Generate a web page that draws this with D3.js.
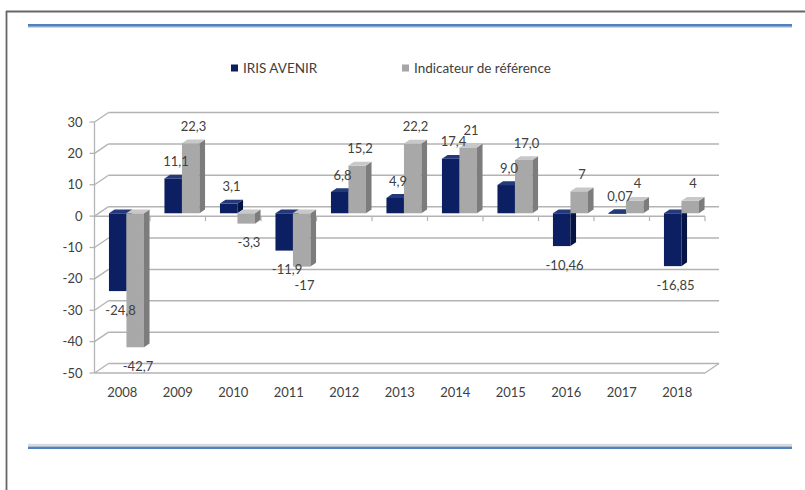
<!DOCTYPE html>
<html><head><meta charset="utf-8">
<script src="https://cdn.jsdelivr.net/npm/d3@7"></script>
<style>body{margin:0;background:#fff}svg{display:block}text{font-family:Lato,"Open Sans",sans-serif;fill:#404040}</style>
</head><body><svg id="c" width="805" height="490"></svg>
<script>
const years = ["2008","2009","2010","2011","2012","2013","2014","2015","2016","2017","2018"];
const seriesNames = ["IRIS AVENIR","Indicateur de référence"];
const irisValues = [-24.8, 11.1, 3.1, -11.9, 6.8, 4.9, 17.4, 9.0, -10.46, 0.07, -16.85];
const refValues  = [-42.7, 22.3, -3.3, -17, 15.2, 22.2, 21, 17.0, 7, 4, 4];
const irisLabels = ["-24,8","11,1","3,1","-11,9","6,8","4,9","17,4","9,0","-10,46","0,07","-16,85"];
const refLabels  = ["-42,7","22,3","-3,3","-17","15,2","22,2","21","17,0","7","4","4"];
const yTicks = [30,20,10,0,-10,-20,-30,-40,-50];

const svg = d3.select("#c");
const DX = 14, DY = -9.5;       // 3D depth offset
const F0 = 0.3, F1 = 0.7;       // bar depth fractions
const x = d3.scaleBand().domain(years).range([94.5, 705]);
const xs = d3.scaleBand().domain(seriesNames).range([0, x.bandwidth()]).paddingOuter(0.586).paddingInner(0);
const y = d3.scaleLinear().domain([-50, 30]).range([373, 122]);
const gridCol = "#b3b3b3";

// frame
svg.append("line").attr("x1",6.5).attr("x2",6.5).attr("y1",11).attr("y2",490).attr("stroke","#666").attr("stroke-width",1.8);
svg.append("line").attr("x1",6).attr("x2",805).attr("y1",11.5).attr("y2",11.5).attr("stroke","#666").attr("stroke-width",1.8);
// decorative blue rules
svg.append("rect").attr("x",28).attr("y",26.5).attr("width",764).attr("height",1.5).attr("fill","#c9d6e8");
svg.append("rect").attr("x",28).attr("y",24).attr("width",764).attr("height",2.6).attr("fill","#4f81bd");
svg.append("rect").attr("x",28).attr("y",443.8).attr("width",764).attr("height",2.8).attr("fill","#d9d9d9");
svg.append("rect").attr("x",28).attr("y",446.6).attr("width",764).attr("height",2.4).attr("fill","#4f81bd");

// legend
const legend = svg.append("g");
const legX = [231, 402], legCol = ["#0c1f63", "#a6a6a6"];
seriesNames.forEach((s,i) => {
  legend.append("rect").attr("x",legX[i]).attr("y",64.5).attr("width",7).attr("height",7).attr("fill",legCol[i]);
  legend.append("text").attr("x",legX[i]+12).attr("y",68).attr("dy","0.35em").attr("font-size",13.5).text(s);
});

const x0 = x.range()[0], x1 = x.range()[1];
const g = svg.append("g");
// back wall gridlines + left wall diagonals + ticks
yTicks.forEach(t => {
  const yy = y(t);
  g.append("line").attr("x1",x0+DX).attr("x2",x1+DX).attr("y1",yy+DY).attr("y2",yy+DY).attr("stroke",gridCol).attr("stroke-width",1.5);
  g.append("line").attr("x1",x0).attr("x2",x0+DX).attr("y1",yy).attr("y2",yy+DY).attr("stroke",gridCol).attr("stroke-width",1.3);
  g.append("line").attr("x1",x0-5).attr("x2",x0).attr("y1",yy).attr("y2",yy).attr("stroke",gridCol).attr("stroke-width",1.3);
  g.append("text").attr("x",x0-12).attr("y",yy).attr("dy","0.35em").attr("text-anchor","end").attr("font-size",13).text(t);
});
// vertical axis
g.append("line").attr("x1",x0).attr("x2",x0).attr("y1",y(30)).attr("y2",y(-50)).attr("stroke",gridCol).attr("stroke-width",1.3);
// floor
g.append("line").attr("x1",x0).attr("x2",x1).attr("y1",y(-50)).attr("y2",y(-50)).attr("stroke",gridCol).attr("stroke-width",1.5);
g.append("line").attr("x1",x1).attr("x2",x1+DX).attr("y1",y(-50)).attr("y2",y(-50)+DY).attr("stroke",gridCol).attr("stroke-width",1.3);
// zero axis with ticks
g.append("line").attr("x1",x0).attr("x2",x1).attr("y1",y(0)).attr("y2",y(0)).attr("stroke",gridCol).attr("stroke-width",1.5);
years.forEach((yr,i) => {
  const xx = x(yr) + x.bandwidth();
  g.append("line").attr("x1",xx).attr("x2",xx).attr("y1",y(0)).attr("y2",y(0)+5).attr("stroke",gridCol).attr("stroke-width",1.2);
});
// category labels
years.forEach(yr => {
  g.append("text").attr("x",x(yr)+x.bandwidth()/2).attr("y",392).attr("dy","0.35em").attr("text-anchor","middle").attr("font-size",13).text(yr);
});

// bars
const colors = [
  {front:"#0c1f63", top:"#23397c", side:"#061443"},
  {front:"#a8a8a8", top:"#c8c8c8", side:"#7c7c7c"}
];
const series = [irisValues, refValues];
const labels = [irisLabels, refLabels];
const bars = svg.append("g");
const labelG = svg.append("g");
years.forEach((yr,i) => {
  seriesNames.forEach((s,k) => {
    const v = series[k][i];
    const c = colors[k];
    const bx = x(yr) + xs(s) + F0*DX;
    const bw = xs.bandwidth();
    const yt = y(Math.max(v,0)) + F0*DY;
    const yb = y(Math.min(v,0)) + F0*DY;
    const ddx = (F1-F0)*DX, ddy = (F1-F0)*DY;
    const h = Math.max(yb-yt, 0.8);
    bars.append("rect").attr("x",bx).attr("y",yt).attr("width",bw).attr("height",h).attr("fill",c.front);
    bars.append("path").attr("d",`M${bx+bw},${yt}L${bx+bw+ddx},${yt+ddy}L${bx+bw+ddx},${yt+h+ddy}L${bx+bw},${yt+h}Z`).attr("fill",c.side);
    bars.append("path").attr("d",`M${bx},${yt}L${bx+ddx},${yt+ddy}L${bx+bw+ddx},${yt+ddy}L${bx+bw},${yt}Z`).attr("fill",c.top);
    const lx = bx + bw/2 + ddx/2;
    const ly = v >= 0 ? yt + ddy - 13 : yb + 19;
    labelG.append("text").attr("x",lx).attr("y",ly).attr("dy","0.35em").attr("text-anchor","middle").attr("font-size",13).text(labels[k][i]);
  });
});
</script></body></html>
